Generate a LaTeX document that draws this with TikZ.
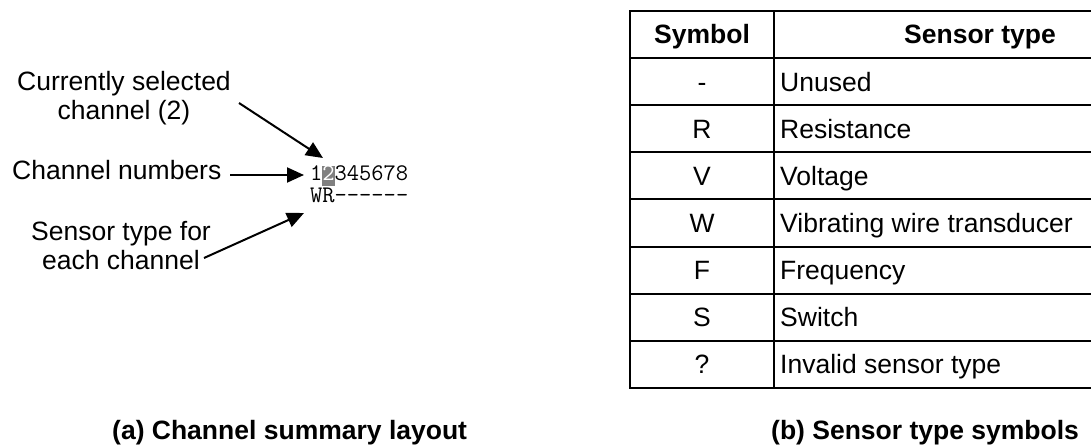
\documentclass[tikz,border=0pt]{standalone}
\usepackage{fontspec}
\setmainfont{Liberation Sans}
\usetikzlibrary{arrows.meta}
\definecolor{hlgray}{HTML}{808080}
\tikzset{
  lbl/.style={inner sep=0pt, font=\fontsize{26.5}{29}\selectfont},
  capt/.style={inner sep=0pt, font=\fontsize{26.5}{29}\selectfont\bfseries, anchor=base west},
  mono/.style={inner sep=0pt, font=\fontsize{23.8}{26}\ttfamily, anchor=base west},
  ptr/.style={line width=2pt, -{Triangle[length=17pt,width=15pt]}},
  grid/.style={line width=2pt},
  celltxt/.style={inner sep=0pt, font=\fontsize{26.5}{29}\selectfont},
}
\begin{document}
\begin{tikzpicture}[x=1pt,y=-1pt]
\clip (0,0) rectangle (1091,446);
\fill[white] (0,0) rectangle (1091,446);

% left part
\node[lbl, align=center, anchor=north] (sel) at (124,71) {Currently selected\\channel (2)};
\node[lbl, anchor=base west] (cn) at (12,180) {Channel numbers};
\node[lbl, align=center, anchor=north] (st) at (121,221) {Sensor type for\\each channel};

\node[mono] (nums) at (310,181) {1\setlength{\fboxsep}{0pt}\colorbox{hlgray}{\rule[-5pt]{0pt}{19.5pt}\textcolor{white}{2}}345678};
\node[mono] (types) at (310,203) {WR------};

\coordinate (a1s) at (239,103);
\coordinate (a1e) at (323,158);
\coordinate (a2s) at (230,175);
\coordinate (a2e) at (304,175);
\coordinate (a3s) at (204,258);
\coordinate (a3e) at (304,213);
\draw[ptr] (a1s) -- (a1e);
\draw[ptr] (a2s) -- (a2e);
\draw[ptr] (a3s) -- (a3e);

% table
\draw[grid] (630,11) rectangle (1186,388);
\draw[grid] (774,11) -- (774,388);
\foreach \i in {1,...,7} {
  \draw[grid] (630,{11+47.125*\i}) -- (1186,{11+47.125*\i});
}
\node[celltxt, font=\fontsize{26.5}{29}\selectfont\bfseries, anchor=base] (h1) at (702,44) {Symbol};
\node[celltxt, font=\fontsize{26.5}{29}\selectfont\bfseries, anchor=base] (h2) at (980,44) {Sensor type};
\foreach \s/\t [count=\i] in {-/Unused, R/Resistance, V/Voltage, W/Vibrating wire transducer, F/Frequency, S/Switch, ?/Invalid sensor type} {
  \node[celltxt, anchor=base] (s\i) at (702,{34.5+47.125*\i+9.5}) {\s};
  \node[celltxt, anchor=base west] (t\i) at (780,{34.5+47.125*\i+9.5}) {\t};
}

% captions
\node[capt] (capa) at (112,439) {(a) Channel summary layout};
\node[capt] (capb) at (771,439) {(b) Sensor type symbols};
\end{tikzpicture}
\end{document}
